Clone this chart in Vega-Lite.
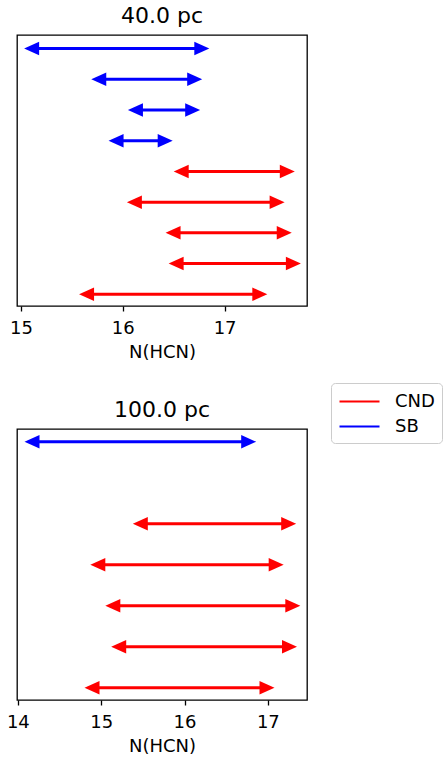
{
  "$schema": "https://vega.github.io/schema/vega-lite/v6.json",
  "background": "white",
  "padding": {"left": 5, "top": 4, "right": 0, "bottom": 0},
  "bounds": "flush",
  "spacing": 123,
  "config": {
    "font": "DejaVu Sans",
    "view": {"stroke": "black", "strokeWidth": 1.3},
    "title": {"fontSize": 22, "fontWeight": "normal", "color": "black", "baseline": "alphabetic", "offset": 7},
    "axisX": {
      "domain": false,
      "grid": false,
      "ticks": true,
      "tickColor": "black",
      "tickSize": 5,
      "tickWidth": 1.3,
      "format": "d",
      "labelFontSize": 18,
      "labelColor": "black",
      "labelPadding": 8,
      "labelFlush": false,
      "labelOverlap": false,
      "titleFontSize": 18,
      "titleFontWeight": "normal",
      "titleColor": "black",
      "titlePadding": 6
    }
  },
  "datasets": {
    "pc40": [
      {"row": 0, "type": "SB", "lo": 15.03, "hi": 16.85},
      {"row": 1, "type": "SB", "lo": 15.69, "hi": 16.78},
      {"row": 2, "type": "SB", "lo": 16.05, "hi": 16.76},
      {"row": 3, "type": "SB", "lo": 15.86, "hi": 16.49},
      {"row": 4, "type": "CND", "lo": 16.50, "hi": 17.69},
      {"row": 5, "type": "CND", "lo": 16.04, "hi": 17.59},
      {"row": 6, "type": "CND", "lo": 16.42, "hi": 17.66},
      {"row": 7, "type": "CND", "lo": 16.45, "hi": 17.75},
      {"row": 8, "type": "CND", "lo": 15.57, "hi": 17.42}
    ],
    "pc100": [
      {"row": 0, "type": "SB", "lo": 14.08, "hi": 16.86},
      {"row": 2, "type": "CND", "lo": 15.38, "hi": 17.34},
      {"row": 3, "type": "CND", "lo": 14.87, "hi": 17.19},
      {"row": 4, "type": "CND", "lo": 15.05, "hi": 17.39},
      {"row": 5, "type": "CND", "lo": 15.12, "hi": 17.35},
      {"row": 6, "type": "CND", "lo": 14.80, "hi": 17.08}
    ]
  },
  "vconcat": [
    {
      "title": "40.0 pc",
      "width": 290,
      "height": 271,
      "data": {"name": "pc40"},
      "encoding": {
        "y": {"field": "row", "type": "quantitative", "scale": {"domain": [8.38, -0.44], "nice": false, "zero": false}, "axis": null},
        "color": {
          "field": "type", "type": "nominal",
          "scale": {"domain": ["CND", "SB"], "range": ["#ff0000", "#0000ff"]},
          "legend": {
            "title": null,
            "orient": "none",
            "legendX": 314,
            "legendY": 348,
            "symbolType": "M-2,0H2",
            "symbolSize": 400,
            "symbolOffset": 10,
            "symbolStrokeWidth": 2.2,
            "labelFontSize": 18,
            "labelColor": "black",
            "labelOffset": 24,
            "fillColor": "white",
            "strokeColor": "#cccccc",
            "cornerRadius": 4,
            "padding": 7,
            "rowPadding": 4,
            "encode": {"symbols": {"update": {"stroke": {"scale": "color", "field": "value"}, "fill": {"value": "transparent"}, "opacity": {"value": 1}}}}
          }
        }
      },
      "layer": [
        {
          "mark": {"type": "rule", "strokeWidth": 3, "xOffset": 7, "x2Offset": -7},
          "encoding": {
            "x": {"field": "lo", "type": "quantitative", "title": "N(HCN)", "scale": {"domain": [14.96, 17.81], "nice": false, "zero": false}, "axis": {"values": [15, 16, 17]}},
            "x2": {"field": "hi"}
          }
        },
        {
          "mark": {"type": "point", "shape": "M0,0L2,-0.9L2,0.9Z", "filled": true, "size": 225, "opacity": 1, "strokeWidth": 0},
          "encoding": {"x": {"field": "lo", "type": "quantitative", "title": "N(HCN)"}}
        },
        {
          "mark": {"type": "point", "shape": "M0,0L-2,-0.9L-2,0.9Z", "filled": true, "size": 225, "opacity": 1, "strokeWidth": 0},
          "encoding": {"x": {"field": "hi", "type": "quantitative", "title": "N(HCN)"}}
        }
      ]
    },
    {
      "title": "100.0 pc",
      "width": 290,
      "height": 271,
      "data": {"name": "pc100"},
      "encoding": {
        "y": {"field": "row", "type": "quantitative", "scale": {"domain": [6.3, -0.31], "nice": false, "zero": false}, "axis": null},
        "color": {"field": "type", "type": "nominal"}
      },
      "layer": [
        {
          "mark": {"type": "rule", "strokeWidth": 3, "xOffset": 7, "x2Offset": -7},
          "encoding": {
            "x": {"field": "lo", "type": "quantitative", "title": "N(HCN)", "scale": {"domain": [13.99, 17.47], "nice": false, "zero": false}, "axis": {"values": [14, 15, 16, 17]}},
            "x2": {"field": "hi"}
          }
        },
        {
          "mark": {"type": "point", "shape": "M0,0L2,-0.9L2,0.9Z", "filled": true, "size": 225, "opacity": 1, "strokeWidth": 0},
          "encoding": {"x": {"field": "lo", "type": "quantitative", "title": "N(HCN)"}}
        },
        {
          "mark": {"type": "point", "shape": "M0,0L-2,-0.9L-2,0.9Z", "filled": true, "size": 225, "opacity": 1, "strokeWidth": 0},
          "encoding": {"x": {"field": "hi", "type": "quantitative", "title": "N(HCN)"}}
        }
      ]
    }
  ]
}
